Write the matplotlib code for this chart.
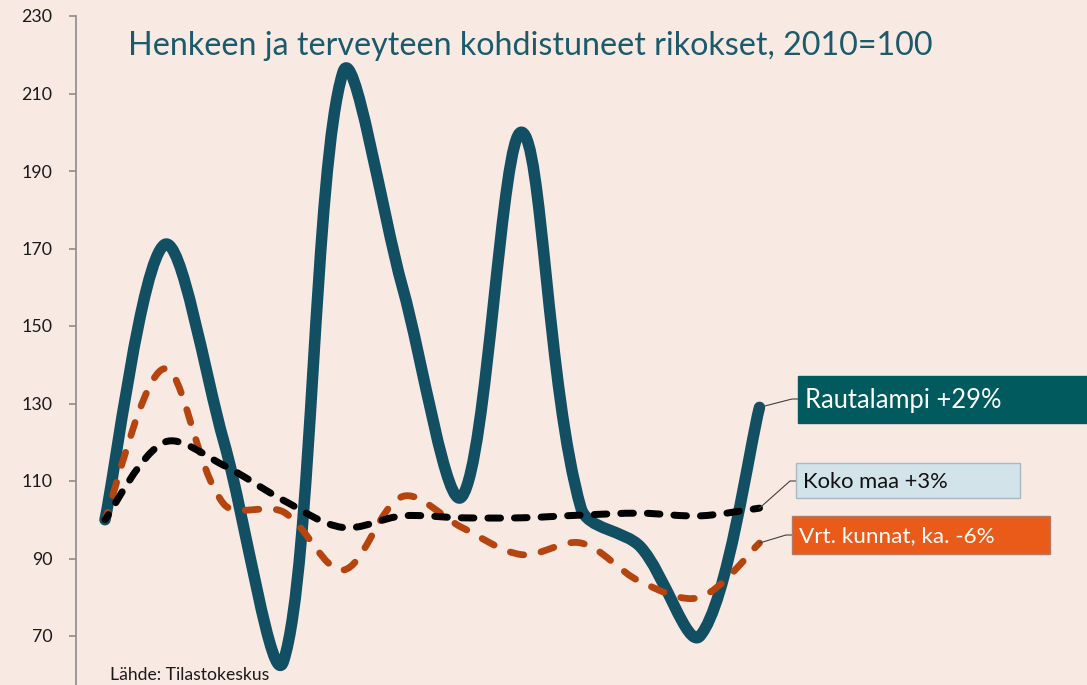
import matplotlib
matplotlib.use("Agg")
import matplotlib.pyplot as plt
from matplotlib.path import Path
from matplotlib.patches import PathPatch, Rectangle
from matplotlib.lines import Line2D
import numpy as np

plt.rcParams['font.family'] = ['Lato', 'DejaVu Sans']

years = list(range(2010, 2022))
rautalampi = [100, 171, 120, 63.5, 215.5, 160, 106, 200, 103, 93, 70, 129]
koko_maa = [100, 120, 114, 105, 98, 101, 100.5, 100.5, 101.2, 101.7, 101, 103]
vrt_kunnat = [100, 139, 104, 102, 87, 106, 98, 91, 94, 84, 80, 94]
yticks = [70, 90, 110, 130, 150, 170, 190, 210, 230]

title = "Henkeen ja terveyteen kohdistuneet rikokset, 2010=100"
source = "Lähde: Tilastokeskus"
labels = ["Rautalampi +29%", "Koko maa +3%", "Vrt. kunnat, ka. -6%"]

BG = "#f8eae3"
W, H = 1087, 685
fig = plt.figure(figsize=(W / 100, H / 100), dpi=100, facecolor=BG)
ax = fig.add_axes([76 / W, 0, (W - 76) / W, (H - 16) / H], facecolor=BG)

px_per_year = 59.5
ax.set_xlim(2010 - 29 / px_per_year, 2010 + (W - 76 - 29) / px_per_year)
ax.set_ylim(230 - 669 / 3.875, 230)


def smooth_path(xs, ys):
    """Excel-like smoothing: Bezier segments with tangents scaled by screen segment lengths."""
    xs = np.asarray(xs, float)
    ys = np.asarray(ys, float)
    n = len(xs)
    disp = ax.transData.transform(np.column_stack([xs, ys]))
    d = np.hypot(np.diff(disp[:, 0]), np.diff(disp[:, 1]))
    pts = np.column_stack([xs, ys])
    verts = [tuple(pts[0])]
    codes = [Path.MOVETO]
    for i in range(n - 1):
        i0 = max(i - 1, 0)
        i3 = min(i + 2, n - 1)
        dprev = d[i - 1] if i > 0 else d[i]
        dnext = d[i + 1] if i + 1 < n - 1 else d[i]
        f1 = d[i] / (dprev + d[i]) / 3 if i > 0 else 1 / 6
        f2 = d[i] / (d[i] + dnext) / 3 if i + 1 < n - 1 else 1 / 6
        c1 = pts[i] + (pts[i + 1] - pts[i0]) * f1
        c2 = pts[i + 1] - (pts[i3] - pts[i]) * f2
        verts += [tuple(c1), tuple(c2), tuple(pts[i + 1])]
        codes += [Path.CURVE4] * 3
    return Path(verts, codes)


def dashed(path, color, lw_px, on, off, z):
    """Dashed smooth line, dash phase chosen so the line ends inside a dash."""
    tp = ax.transData.transform_path(path)
    polys = tp.to_polygons(closed_only=False)
    L = sum(np.hypot(np.diff(p[:, 0]), np.diff(p[:, 1])).sum() for p in polys)
    period = (on + off) * lw_px
    offset_px = (on * lw_px * 0.5 - L) % period
    ax.add_patch(PathPatch(path, facecolor='none', edgecolor=color, lw=lw_px / PT,
                           linestyle=(offset_px / lw_px, (on, off)), capstyle='round', zorder=z))


PT = 1.389
dashed(smooth_path(years, vrt_kunnat), '#b5440f', 6.8, 2.0, 2.6, 3)
dashed(smooth_path(years, koko_maa), '#000000', 7.0, 1.8, 2.0, 4)
ax.add_patch(PathPatch(smooth_path(years, rautalampi), facecolor='none', edgecolor='#124f63',
                       lw=11.5 / PT, capstyle='round', joinstyle='round', zorder=2))

for s in ['top', 'right', 'bottom']:
    ax.spines[s].set_visible(False)
ax.spines['left'].set_color('#8c8c8c')
ax.spines['left'].set_linewidth(1.2)
ax.set_xticks([])
ax.set_yticks(yticks)
ax.tick_params(axis='y', direction='out', length=5, width=1.2, color='#8c8c8c',
               labelsize=12.8, labelcolor='#1a1a1a', pad=12)

fig.text(128 / W, 1 - 55 / H, title, fontsize=23.2, color='#1a5a6b', ha='left', va='baseline')
fig.text(110 / W, 1 - 680 / H, source, fontsize=12.6, color='#1a1a1a', ha='left', va='baseline')

boxes = [
    (798, 376, 1087, 423, '#005a5e', '#005a5e', 'white', 18.4, rautalampi[-1], 399),
    (796, 463, 1020, 498, '#d3e3ea', '#a9b9c1', '#111111', 15.8, koko_maa[-1], 481),
    (792, 516, 1050, 554, '#ea5b1a', '#b07a66', 'white', 16.2, vrt_kunnat[-1], 535),
]
for (x0, y0, x1, y1, fc, ec, tc, fs, yv, bend_y), lab in zip(boxes, labels):
    fig.patches.append(Rectangle((x0 / W, 1 - y1 / H), (x1 - x0) / W, (y1 - y0) / H,
                                 transform=fig.transFigure, facecolor=fc, edgecolor=ec,
                                 lw=1, zorder=5))
    fig.text((x0 + 7) / W, 1 - ((y0 + y1) / 2 + 1) / H, lab, fontsize=fs, color=tc,
             ha='left', va='center', zorder=6)
    dx, dy = ax.transData.transform((years[-1], yv))
    fx, fy = fig.transFigure.inverted().transform((dx, dy))
    bx = (x0 - 6) / W
    by = 1 - bend_y / H
    fig.lines.append(Line2D([fx, bx, x0 / W], [fy, by, by], transform=fig.transFigure,
                            color='#404040', lw=0.8, zorder=4))

fig.savefig("out.png", dpi=100, facecolor=BG)
